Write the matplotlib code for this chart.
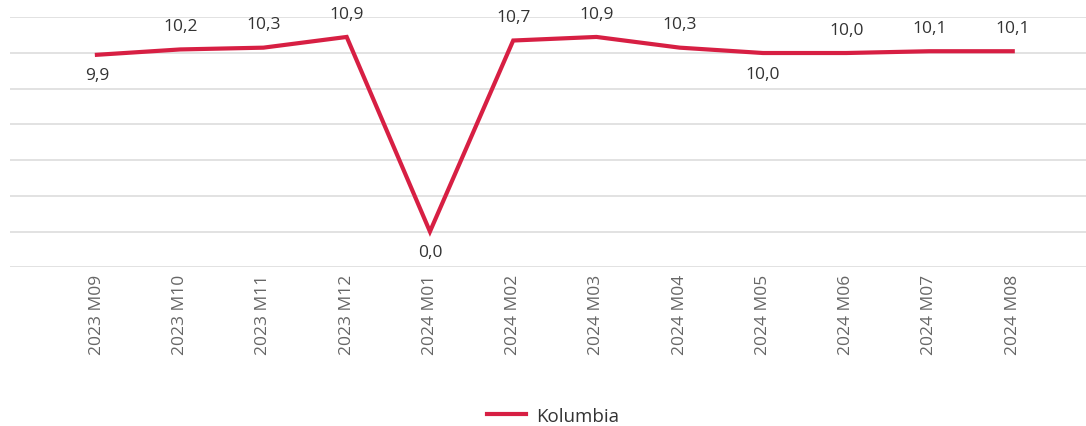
import matplotlib.pyplot as plt

# data
months = ['2023 M09', '2023 M10', '2023 M11', '2023 M12', '2024 M01', '2024 M02',
          '2024 M03', '2024 M04', '2024 M05', '2024 M06', '2024 M07', '2024 M08']
values = [9.9, 10.2, 10.3, 10.9, 0.0, 10.7, 10.9, 10.3, 10.0, 10.0, 10.1, 10.1]
label_pos = ['below', 'above', 'above', 'above', 'below', 'above',
             'above', 'above', 'below', 'above', 'above', 'above']
series_name = 'Kolumbia'

plt.rcParams['font.family'] = ['Open Sans', 'DejaVu Sans']

fig = plt.figure(figsize=(10.86, 4.27), dpi=100)
ax = fig.add_axes([10/1086, 1 - 268.3/427, 1 - 10/1086, 250/427])

x = list(range(len(months)))
ax.plot(x, values, color='#d71f43', lw=3.0, solid_joinstyle='miter', label=series_name,
        zorder=3)

for xi, v, p in zip(x, values, label_pos):
    txt = '{:.1f}'.format(v).replace('.', ',')
    if p == 'above':
        ax.annotate(txt, (xi, v), xytext=(0, 11), textcoords='offset points',
                    ha='center', va='bottom', fontsize=12.5, color='#333333')
    else:
        ax.annotate(txt, (xi, v), xytext=(0, -9), textcoords='offset points',
                    ha='center', va='top', fontsize=12.5, color='#333333')

ax.set_xlim(-1.044, 11.88)
ax.set_ylim(-2, 12)
ax.set_yticks(range(-2, 13, 2))
ax.set_yticklabels([])
ax.set_xticks(x)
ax.set_xticklabels(months, rotation=90, fontsize=12.5, color='#666666')
ax.tick_params(axis='both', length=0)
ax.tick_params(axis='x', pad=5)
ax.grid(axis='y', color='#dddddd', linewidth=1.2)
ax.set_axisbelow(True)
for s in ax.spines.values():
    s.set_visible(False)

fig.legend(loc='center', bbox_to_anchor=(0.509, 1 - 417/427), frameon=False, fontsize=13.5,
           handlelength=2.1, handletextpad=0.5, labelcolor='#333333')

plt.savefig('out.png', dpi=100)
